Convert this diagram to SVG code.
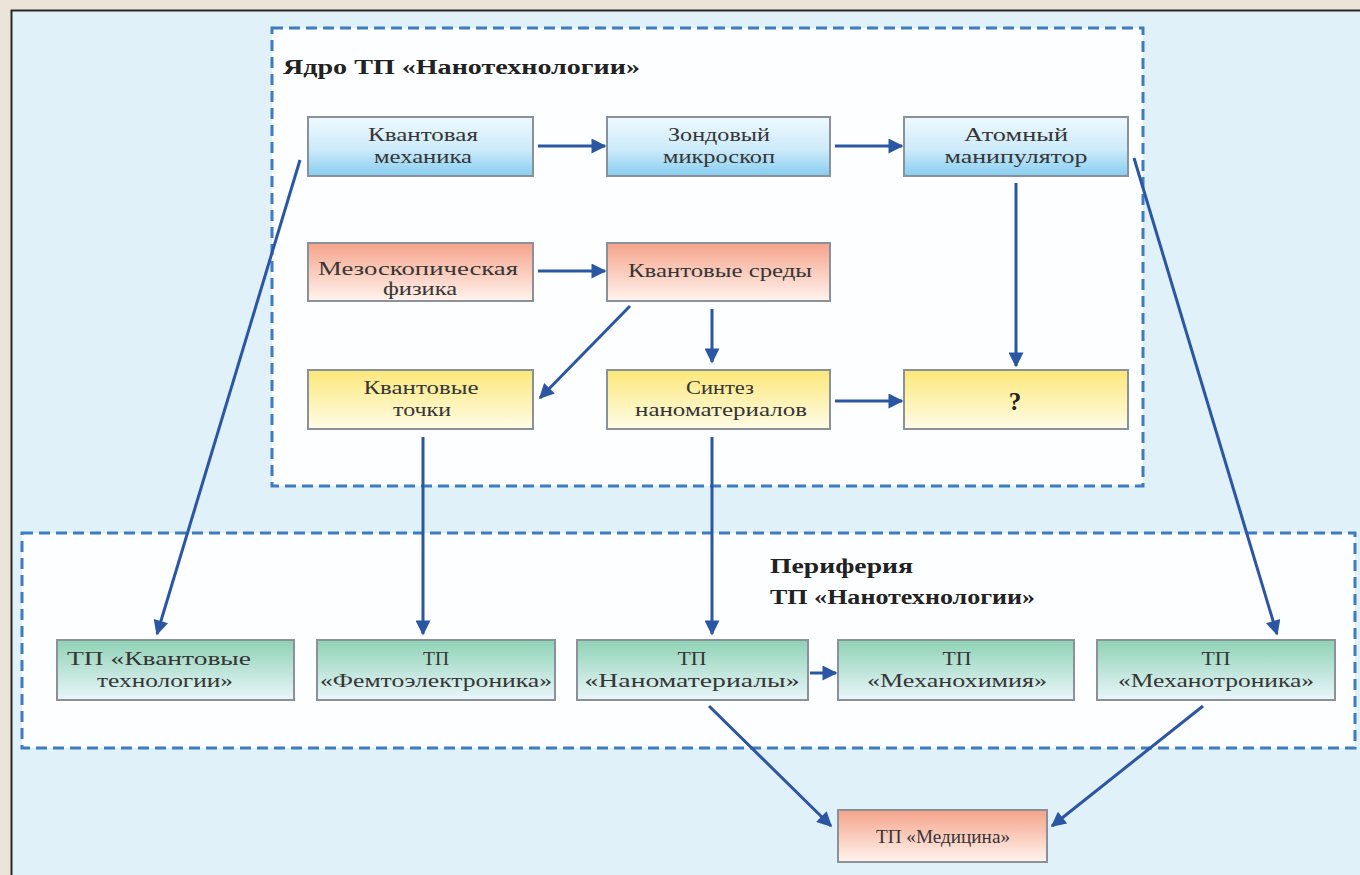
<svg xmlns="http://www.w3.org/2000/svg" width="1360" height="875" viewBox="0 0 1360 875">
<style>
.t{font-family:"Liberation Serif","Times New Roman",serif;font-size:19px;fill:#363636;text-anchor:middle}
.h{font-family:"Liberation Serif","Times New Roman",serif;font-size:20px;font-weight:bold;fill:#222}
.box{stroke:#8b919b;stroke-width:2}
.zone{fill:#fdfeff;stroke:#3d7cc0;stroke-width:3;stroke-dasharray:11 6}
.c{stroke:#2b56a4;stroke-width:3;fill:none;marker-end:url(#ah)}
</style>
<defs>
<linearGradient id="gb" x1="0" y1="0" x2="0" y2="1"><stop offset="0" stop-color="#eef9fe"/><stop offset="0.55" stop-color="#cdebfa"/><stop offset="1" stop-color="#86cdf0"/></linearGradient>
<linearGradient id="gs" x1="0" y1="0" x2="0" y2="1"><stop offset="0" stop-color="#f5a48a"/><stop offset="1" stop-color="#fff3ee"/></linearGradient>
<linearGradient id="gy" x1="0" y1="0" x2="0" y2="1"><stop offset="0" stop-color="#fbe878"/><stop offset="1" stop-color="#fffce8"/></linearGradient>
<linearGradient id="gg" x1="0" y1="0" x2="0" y2="1"><stop offset="0" stop-color="#8fd2b5"/><stop offset="1" stop-color="#eaf6fb"/></linearGradient>
<marker id="ah" viewBox="0 0 10 10" refX="9" refY="5" markerWidth="5.5" markerHeight="5" orient="auto" markerUnits="strokeWidth"><path d="M0,0 L10,5 L0,10 z" fill="#2b56a4"/></marker>
</defs>
<rect x="0" y="0" width="1360" height="875" fill="#ebe4d8"/>
<rect x="11" y="10" width="1349" height="865" fill="#e1f1f9"/>
<path d="M11.5,875 V10.5 H1360" fill="none" stroke="#2a2a2a" stroke-width="2"/>

<g id="core"><rect class="zone" x="272" y="28" width="871" height="458"/>
<text class="h" x="283" y="74" textLength="357" lengthAdjust="spacingAndGlyphs">Ядро ТП «Нанотехнологии»</text></g>
<g id="periphery"><rect class="zone" x="22" y="533" width="1333" height="215"/>
<text class="h" x="770" y="573" textLength="143" lengthAdjust="spacingAndGlyphs">Периферия</text>
<text class="h" x="770" y="604" textLength="265" lengthAdjust="spacingAndGlyphs">ТП «Нанотехнологии»</text></g>

<g id="n1"><rect class="box" fill="url(#gb)" x="308" y="117" width="225" height="59"/><text class="t" x="423" y="141" textLength="110" lengthAdjust="spacingAndGlyphs">Квантовая</text><text class="t" x="423" y="163" textLength="98" lengthAdjust="spacingAndGlyphs">механика</text></g>
<g id="n2"><rect class="box" fill="url(#gb)" x="607" y="117" width="223" height="59"/><text class="t" x="719" y="141" textLength="102" lengthAdjust="spacingAndGlyphs">Зондовый</text><text class="t" x="719" y="163" textLength="112" lengthAdjust="spacingAndGlyphs">микроскоп</text></g>
<g id="n3"><rect class="box" fill="url(#gb)" x="904" y="117" width="224" height="59"/><text class="t" x="1016" y="141" textLength="104" lengthAdjust="spacingAndGlyphs">Атомный</text><text class="t" x="1016" y="163" textLength="143" lengthAdjust="spacingAndGlyphs">манипулятор</text></g>
<g id="n4"><rect class="box" fill="url(#gs)" x="308" y="243" width="225" height="58"/><text class="t" x="418" y="275" textLength="200" lengthAdjust="spacingAndGlyphs">Мезоскопическая</text><text class="t" x="420" y="295" textLength="74" lengthAdjust="spacingAndGlyphs">физика</text></g>
<g id="n5"><rect class="box" fill="url(#gs)" x="607" y="243" width="223" height="58"/><text class="t" x="720" y="277" textLength="184" lengthAdjust="spacingAndGlyphs">Квантовые среды</text></g>
<g id="n6"><rect class="box" fill="url(#gy)" x="308" y="370" width="225" height="59"/><text class="t" x="421" y="394" textLength="115" lengthAdjust="spacingAndGlyphs">Квантовые</text><text class="t" x="422" y="416" textLength="58" lengthAdjust="spacingAndGlyphs">точки</text></g>
<g id="n7"><rect class="box" fill="url(#gy)" x="607" y="370" width="223" height="59"/><text class="t" x="720" y="394" textLength="68" lengthAdjust="spacingAndGlyphs">Синтез</text><text class="t" x="721" y="416" textLength="172" lengthAdjust="spacingAndGlyphs">наноматериалов</text></g>
<g id="n8"><rect class="box" fill="url(#gy)" x="904" y="370" width="224" height="59"/><text class="t" x="1015" y="410" style="font-size:25px;font-weight:bold;fill:#222">?</text></g>

<g id="p1"><rect class="box" fill="url(#gg)" x="57" y="640" width="237" height="60"/><text class="t" x="159" y="665" textLength="184" lengthAdjust="spacingAndGlyphs">ТП «Квантовые</text><text class="t" x="165" y="687" textLength="136" lengthAdjust="spacingAndGlyphs">технологии»</text></g>
<g id="p2"><rect class="box" fill="url(#gg)" x="317" y="640" width="238" height="60"/><text class="t" x="436" y="665" textLength="26" lengthAdjust="spacingAndGlyphs">ТП</text><text class="t" x="436" y="687" textLength="232" lengthAdjust="spacingAndGlyphs">«Фемтоэлектроника»</text></g>
<g id="p3"><rect class="box" fill="url(#gg)" x="577" y="640" width="231" height="60"/><text class="t" x="692" y="665" textLength="29" lengthAdjust="spacingAndGlyphs">ТП</text><text class="t" x="692" y="687" textLength="215" lengthAdjust="spacingAndGlyphs">«Наноматериалы»</text></g>
<g id="p4"><rect class="box" fill="url(#gg)" x="838" y="640" width="236" height="60"/><text class="t" x="957" y="665" textLength="29" lengthAdjust="spacingAndGlyphs">ТП</text><text class="t" x="957" y="687" textLength="180" lengthAdjust="spacingAndGlyphs">«Механохимия»</text></g>
<g id="p5"><rect class="box" fill="url(#gg)" x="1097" y="640" width="238" height="60"/><text class="t" x="1216" y="665" textLength="29" lengthAdjust="spacingAndGlyphs">ТП</text><text class="t" x="1216" y="687" textLength="196" lengthAdjust="spacingAndGlyphs">«Механотроника»</text></g>
<g id="p6"><rect class="box" fill="url(#gs)" x="838" y="810" width="209" height="52"/><text class="t" x="943" y="843" textLength="134" lengthAdjust="spacingAndGlyphs">ТП «Медицина»</text></g>

<g id="connectors">
<line class="c" x1="538" y1="146" x2="605" y2="146"/>
<line class="c" x1="835" y1="146" x2="902" y2="146"/>
<line class="c" x1="538" y1="271" x2="605" y2="271"/>
<line class="c" x1="1016" y1="183" x2="1016" y2="366"/>
<line class="c" x1="630" y1="306" x2="540" y2="398"/>
<line class="c" x1="712" y1="309" x2="712" y2="362"/>
<line class="c" x1="835" y1="401" x2="902" y2="401"/>
<line class="c" x1="300" y1="160" x2="157" y2="634"/>
<line class="c" x1="1134" y1="158" x2="1277" y2="634"/>
<line class="c" x1="423" y1="437" x2="423" y2="634"/>
<line class="c" x1="712" y1="437" x2="712" y2="634"/>
<line class="c" x1="810" y1="673" x2="836" y2="673"/>
<line class="c" x1="709" y1="706" x2="831" y2="826"/>
<line class="c" x1="1203" y1="706" x2="1052" y2="826"/>
</g>
</svg>
